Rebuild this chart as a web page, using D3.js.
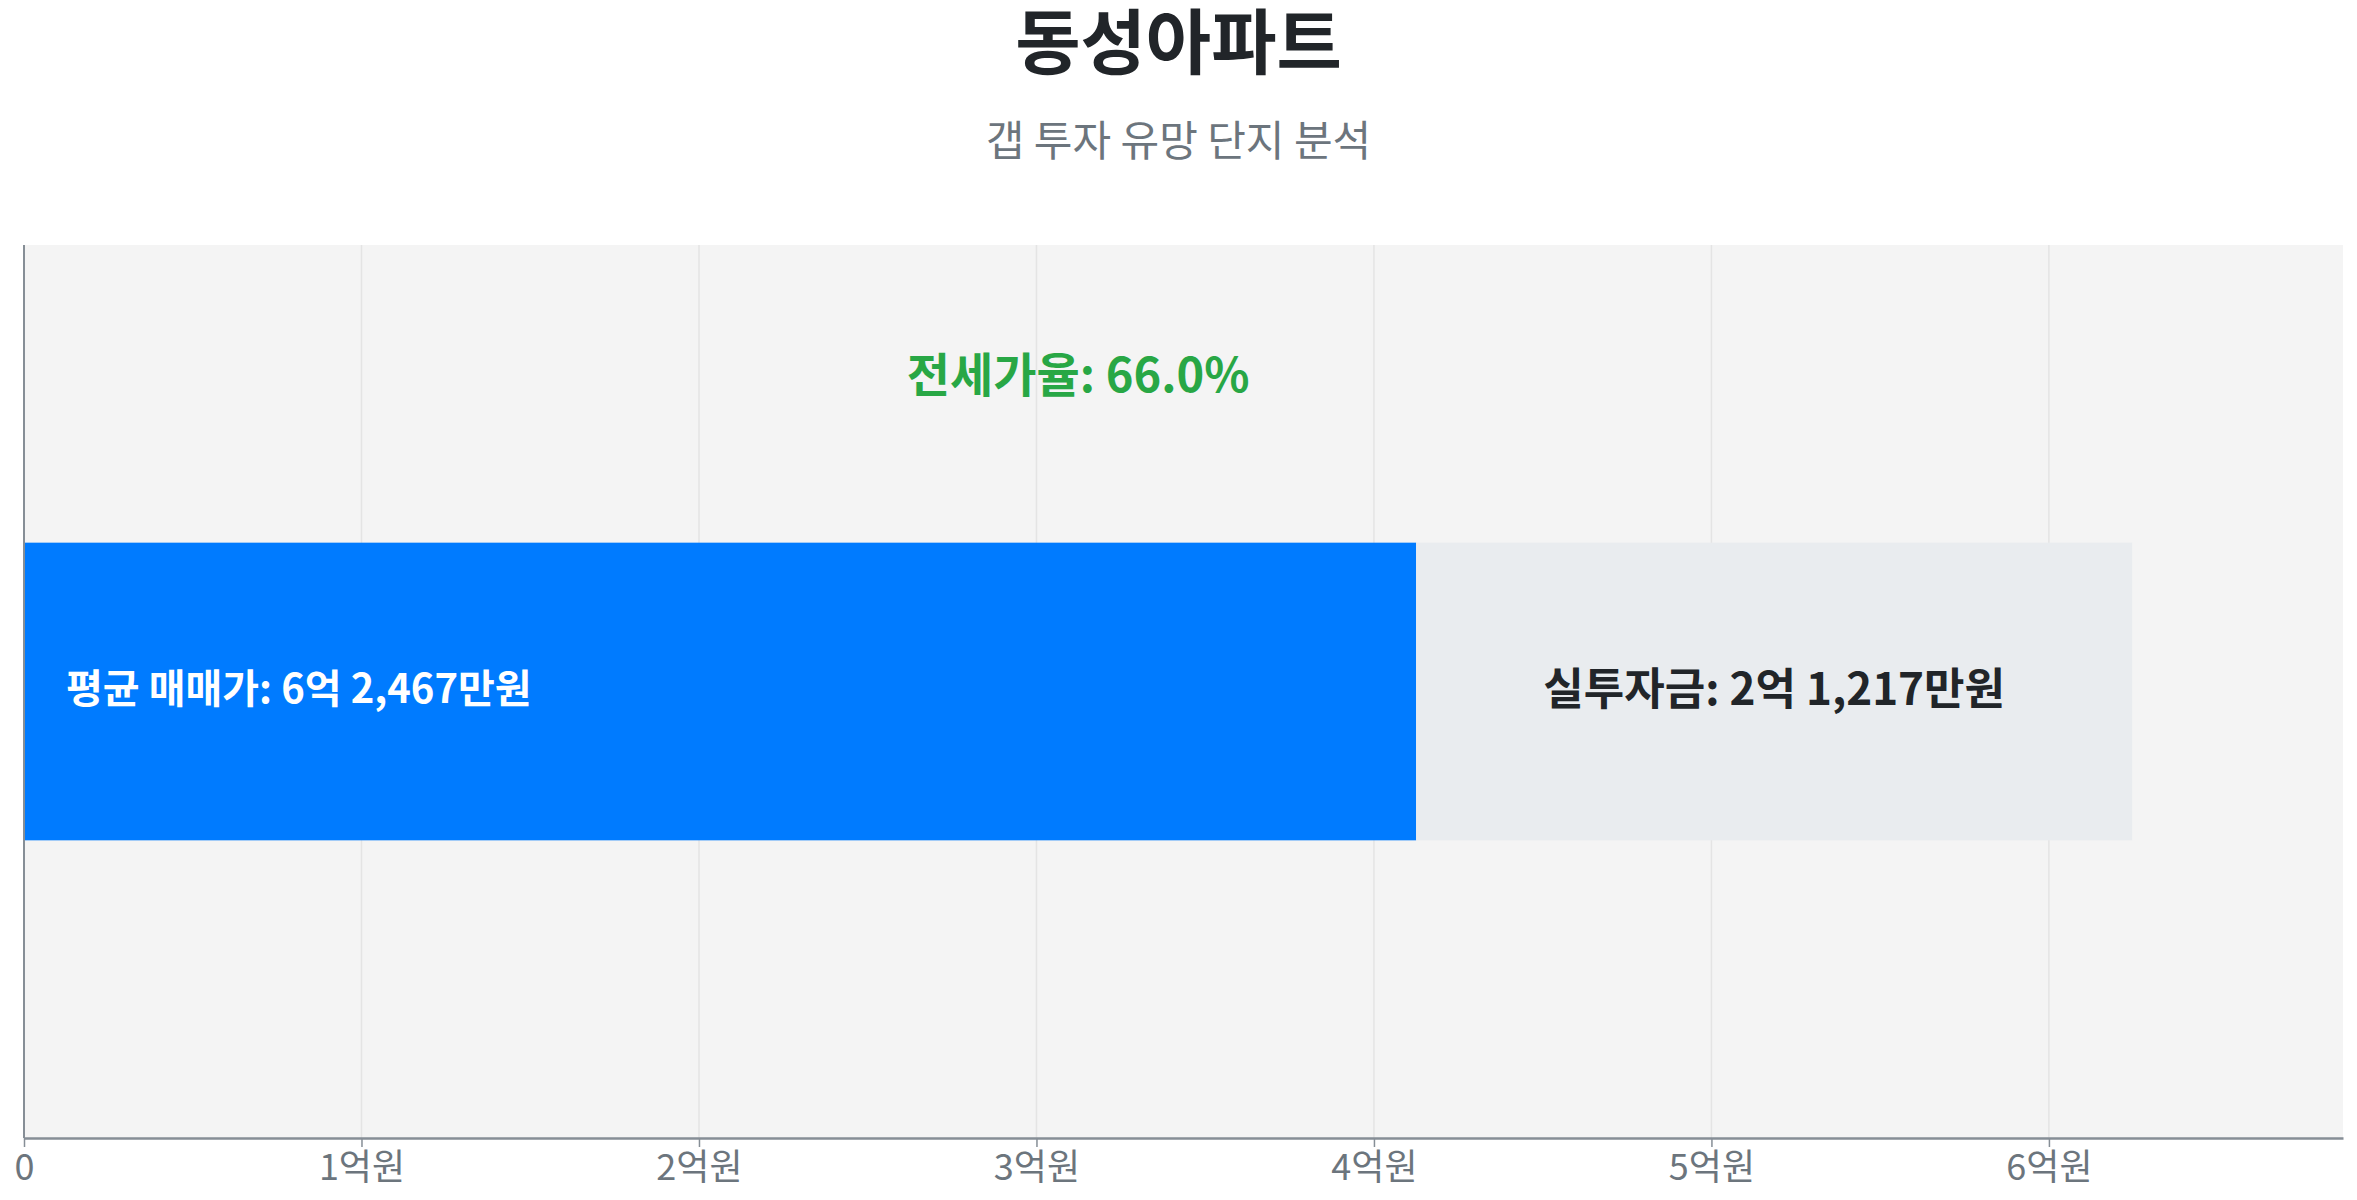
<!DOCTYPE html>
<html>
<head>
<meta charset="utf-8">
<script src="https://cdn.jsdelivr.net/npm/d3@7"></script>
<style>
  body { margin: 0; background: #fff; font-family: "Noto Sans CJK KR", "Noto Sans", sans-serif; }
</style>
</head>
<body>
<div id="chart"></div>
<script>
// values in 만원
const complexName = '동성아파트';
const subtitle = '갭 투자 유망 단지 분석';
const categories = ['동성아파트'];
const avgPrice = [62467];
const gapAmount = [21217];
const jeonseRatio = [66.0];
const tickValues = [0, 10000, 20000, 30000, 40000, 50000, 60000];
const tickLabels = ['0', '1억원', '2억원', '3억원', '4억원', '5억원', '6억원'];

const width = 2357;
const height = 1200;
const margin = { top: 245, right: 14, bottom: 62, left: 24 };
const innerW = width - margin.left - margin.right;
const innerH = height - margin.top - margin.bottom;

function formatWon(v) {
    const eok = Math.floor(v / 10000);
    const man = v % 10000;
    return `${eok}억 ${d3.format(',')(man)}만원`;
}

const svg = d3.select('#chart')
    .append('svg')
    .attr('width', width)
    .attr('height', height);

svg.append('text')
    .attr('x', width / 2)
    .attr('y', 68)
    .attr('text-anchor', 'middle')
    .style('font-size', '71px')
    .style('font-weight', 'bold')
    .style('fill', '#212529')
    .text(complexName);

svg.append('text')
    .attr('x', width / 2)
    .attr('y', 137)
    .attr('text-anchor', 'middle')
    .attr('dominant-baseline', 'central')
    .style('font-size', '42px')
    .style('fill', '#6c757d')
    .text(subtitle);

const g = svg.append('g')
    .attr('transform', `translate(${margin.left}, ${margin.top})`);

const x = d3.scaleLinear()
    .domain([0, d3.max(avgPrice) * 1.1])
    .range([0, innerW]);

const y = d3.scaleBand()
    .domain(categories)
    .range([0, innerH])
    .padding(0.5);

// plot background
g.append('rect')
    .attr('width', innerW)
    .attr('height', innerH)
    .attr('fill', '#f4f4f4');

// vertical grid
g.selectAll('.grid')
    .data(tickValues.slice(1))
    .enter()
    .append('line')
    .attr('x1', d => x(d))
    .attr('x2', d => x(d))
    .attr('y1', 0)
    .attr('y2', innerH)
    .attr('stroke', '#e4e4e4')
    .attr('stroke-width', 1.5);

const rows = categories.map((c, i) => ({
    name: c,
    price: avgPrice[i],
    gap: gapAmount[i],
    jeonse: avgPrice[i] - gapAmount[i],
    ratio: jeonseRatio[i]
}));

// jeonse part (blue)
g.selectAll('.bar-jeonse')
    .data(rows)
    .enter()
    .append('rect')
    .attr('x', x(0))
    .attr('y', d => y(d.name))
    .attr('width', d => x(d.jeonse) - x(0))
    .attr('height', y.bandwidth())
    .attr('fill', '#007bff');

// gap part (grey)
g.selectAll('.bar-gap')
    .data(rows)
    .enter()
    .append('rect')
    .attr('x', d => x(d.jeonse))
    .attr('y', d => y(d.name))
    .attr('width', d => x(d.price) - x(d.jeonse))
    .attr('height', y.bandwidth())
    .attr('fill', '#e9ecef');

g.selectAll('.label-price')
    .data(rows)
    .enter()
    .append('text')
    .attr('x', x(0) + 42)
    .attr('y', d => y(d.name) + y.bandwidth() / 2 - 6)
    .attr('dominant-baseline', 'central')
    .style('font-size', '40px')
    .style('font-weight', 'bold')
    .style('fill', '#fff')
    .text(d => `평균 매매가: ${formatWon(d.price)}`);

g.selectAll('.label-gap')
    .data(rows)
    .enter()
    .append('text')
    .attr('x', d => (x(d.jeonse) + x(d.price)) / 2)
    .attr('y', d => y(d.name) + y.bandwidth() / 2 - 6)
    .attr('text-anchor', 'middle')
    .attr('dominant-baseline', 'central')
    .style('font-size', '44px')
    .style('font-weight', 'bold')
    .style('fill', '#212529')
    .text(d => `실투자금: ${formatWon(d.gap)}`);

g.selectAll('.label-ratio')
    .data(rows)
    .enter()
    .append('text')
    .attr('x', d => x(d.price / 2))
    .attr('y', d => y(d.name) - 171)
    .attr('text-anchor', 'middle')
    .attr('dominant-baseline', 'central')
    .style('font-size', '47px')
    .style('font-weight', 'bold')
    .style('fill', '#28a745')
    .text(d => `전세가율: ${d.ratio.toFixed(1)}%`);

// x axis
const xAxis = g.append('g')
    .attr('transform', `translate(0, ${innerH})`)
    .call(d3.axisBottom(x)
        .tickValues(tickValues)
        .tickFormat((d, i) => tickLabels[i])
        .tickSize(9)
        .tickSizeOuter(0)
        .tickPadding(7));

xAxis.select('.domain')
    .attr('stroke', '#868e96')
    .attr('stroke-width', 2.5);
xAxis.selectAll('.tick line')
    .attr('stroke', '#868e96')
    .attr('stroke-width', 1.5);
xAxis.selectAll('.tick text')
    .style('font-size', '36px')
    .style('font-family', '"Noto Sans CJK KR", sans-serif')
    .style('fill', '#6c757d');

// left axis line
g.append('line')
    .attr('x1', 0)
    .attr('x2', 0)
    .attr('y1', 0)
    .attr('y2', innerH)
    .attr('stroke', '#868e96')
    .attr('stroke-width', 2);
</script>
</body>
</html>
